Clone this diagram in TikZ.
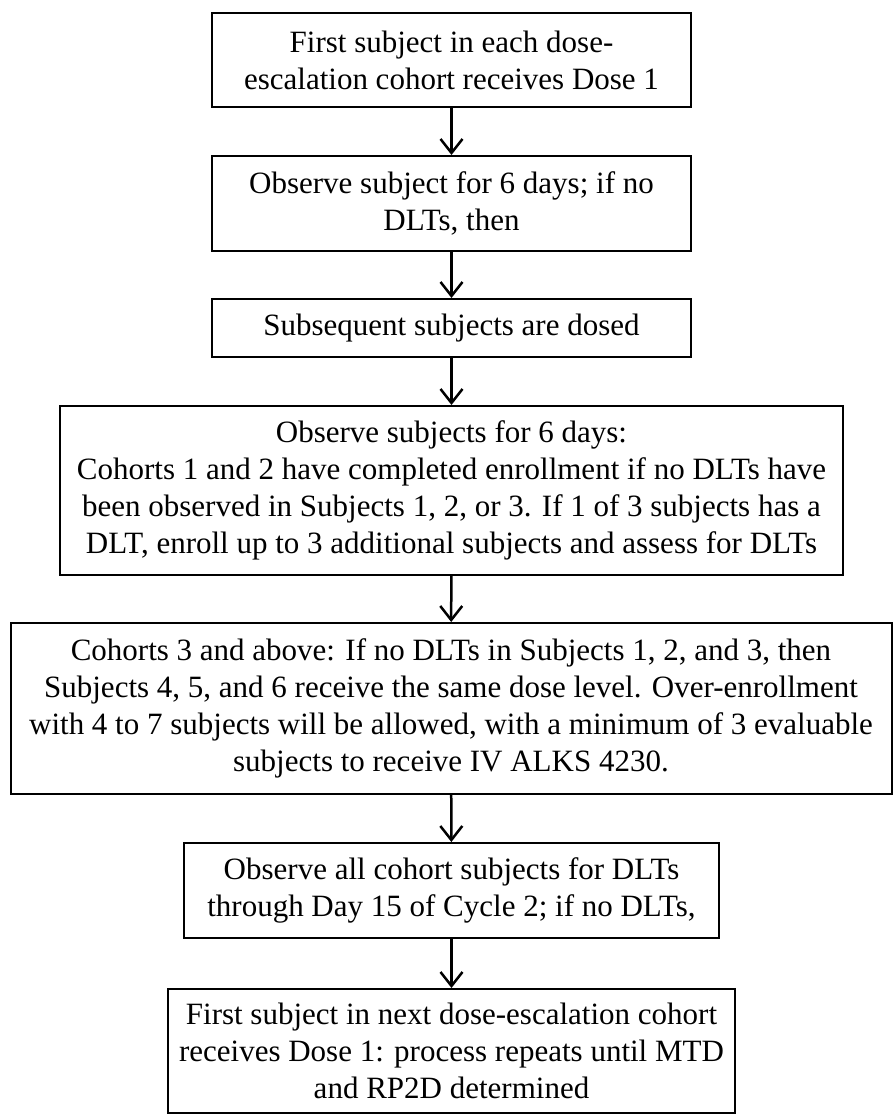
\documentclass[tikz,border=0pt]{standalone}
\usepackage{fontspec}
\setmainfont{Liberation Serif}
\usetikzlibrary{arrows.meta}
\begin{document}
\begin{tikzpicture}[x=1pt, y=-1pt,
    box/.style={draw, line width=2pt, align=center, inner sep=0pt,
        font=\fontsize{31}{37}\selectfont},
    link/.style={->, line width=2.5pt},
    >={Straight Barb[length=14pt, width=22pt, line width=2.5pt]}]
        \useasboundingbox (0, 0) rectangle (893, 1114);
        \node [box, minimum width=479, minimum height=94] (0) at (451.5, 60) {First subject in each dose-\\escalation cohort receives Dose 1};
        \node [box, minimum width=479, minimum height=95] (1) at (451.5, 203.5) {Observe subject for 6 days; if no\\DLTs, then};
        \node [box, minimum width=479, minimum height=58] (2) at (451.5, 328) {Subsequent subjects are dosed};
        \node [box, minimum width=783, minimum height=169] (3) at (451.5, 490.5) {Observe subjects for 6 days:\\Cohorts 1 and 2 have completed enrollment if no DLTs have\\been observed in Subjects 1, 2, or 3. If 1 of 3 subjects has a\\DLT, enroll up to 3 additional subjects and assess for DLTs};
        \node [box, minimum width=881, minimum height=171] (4) at (451, 708.5) {Cohorts 3 and above: If no DLTs in Subjects 1, 2, and 3, then\\Subjects 4, 5, and 6 receive the same dose level. Over-enrollment\\with 4 to 7 subjects will be allowed, with a minimum of 3 evaluable\\subjects to receive IV ALKS 4230.};
        \node [box, minimum width=535, minimum height=95] (5) at (451.5, 890.5) {Observe all cohort subjects for DLTs\\through Day 15 of Cycle 2; if no DLTs,};
        \node [box, minimum width=567, minimum height=124] (6) at (451.5, 1051) {First subject in next dose-escalation cohort\\receives Dose 1: process repeats until MTD\\and RP2D determined};
        \draw [link] (0) to (1);
        \draw [link] (1) to (2);
        \draw [link] (2) to (3);
        \draw [link] (3) to (4);
        \draw [link] (4) to (5);
        \draw [link] (5) to (6);
    \end{tikzpicture}
\end{document}
